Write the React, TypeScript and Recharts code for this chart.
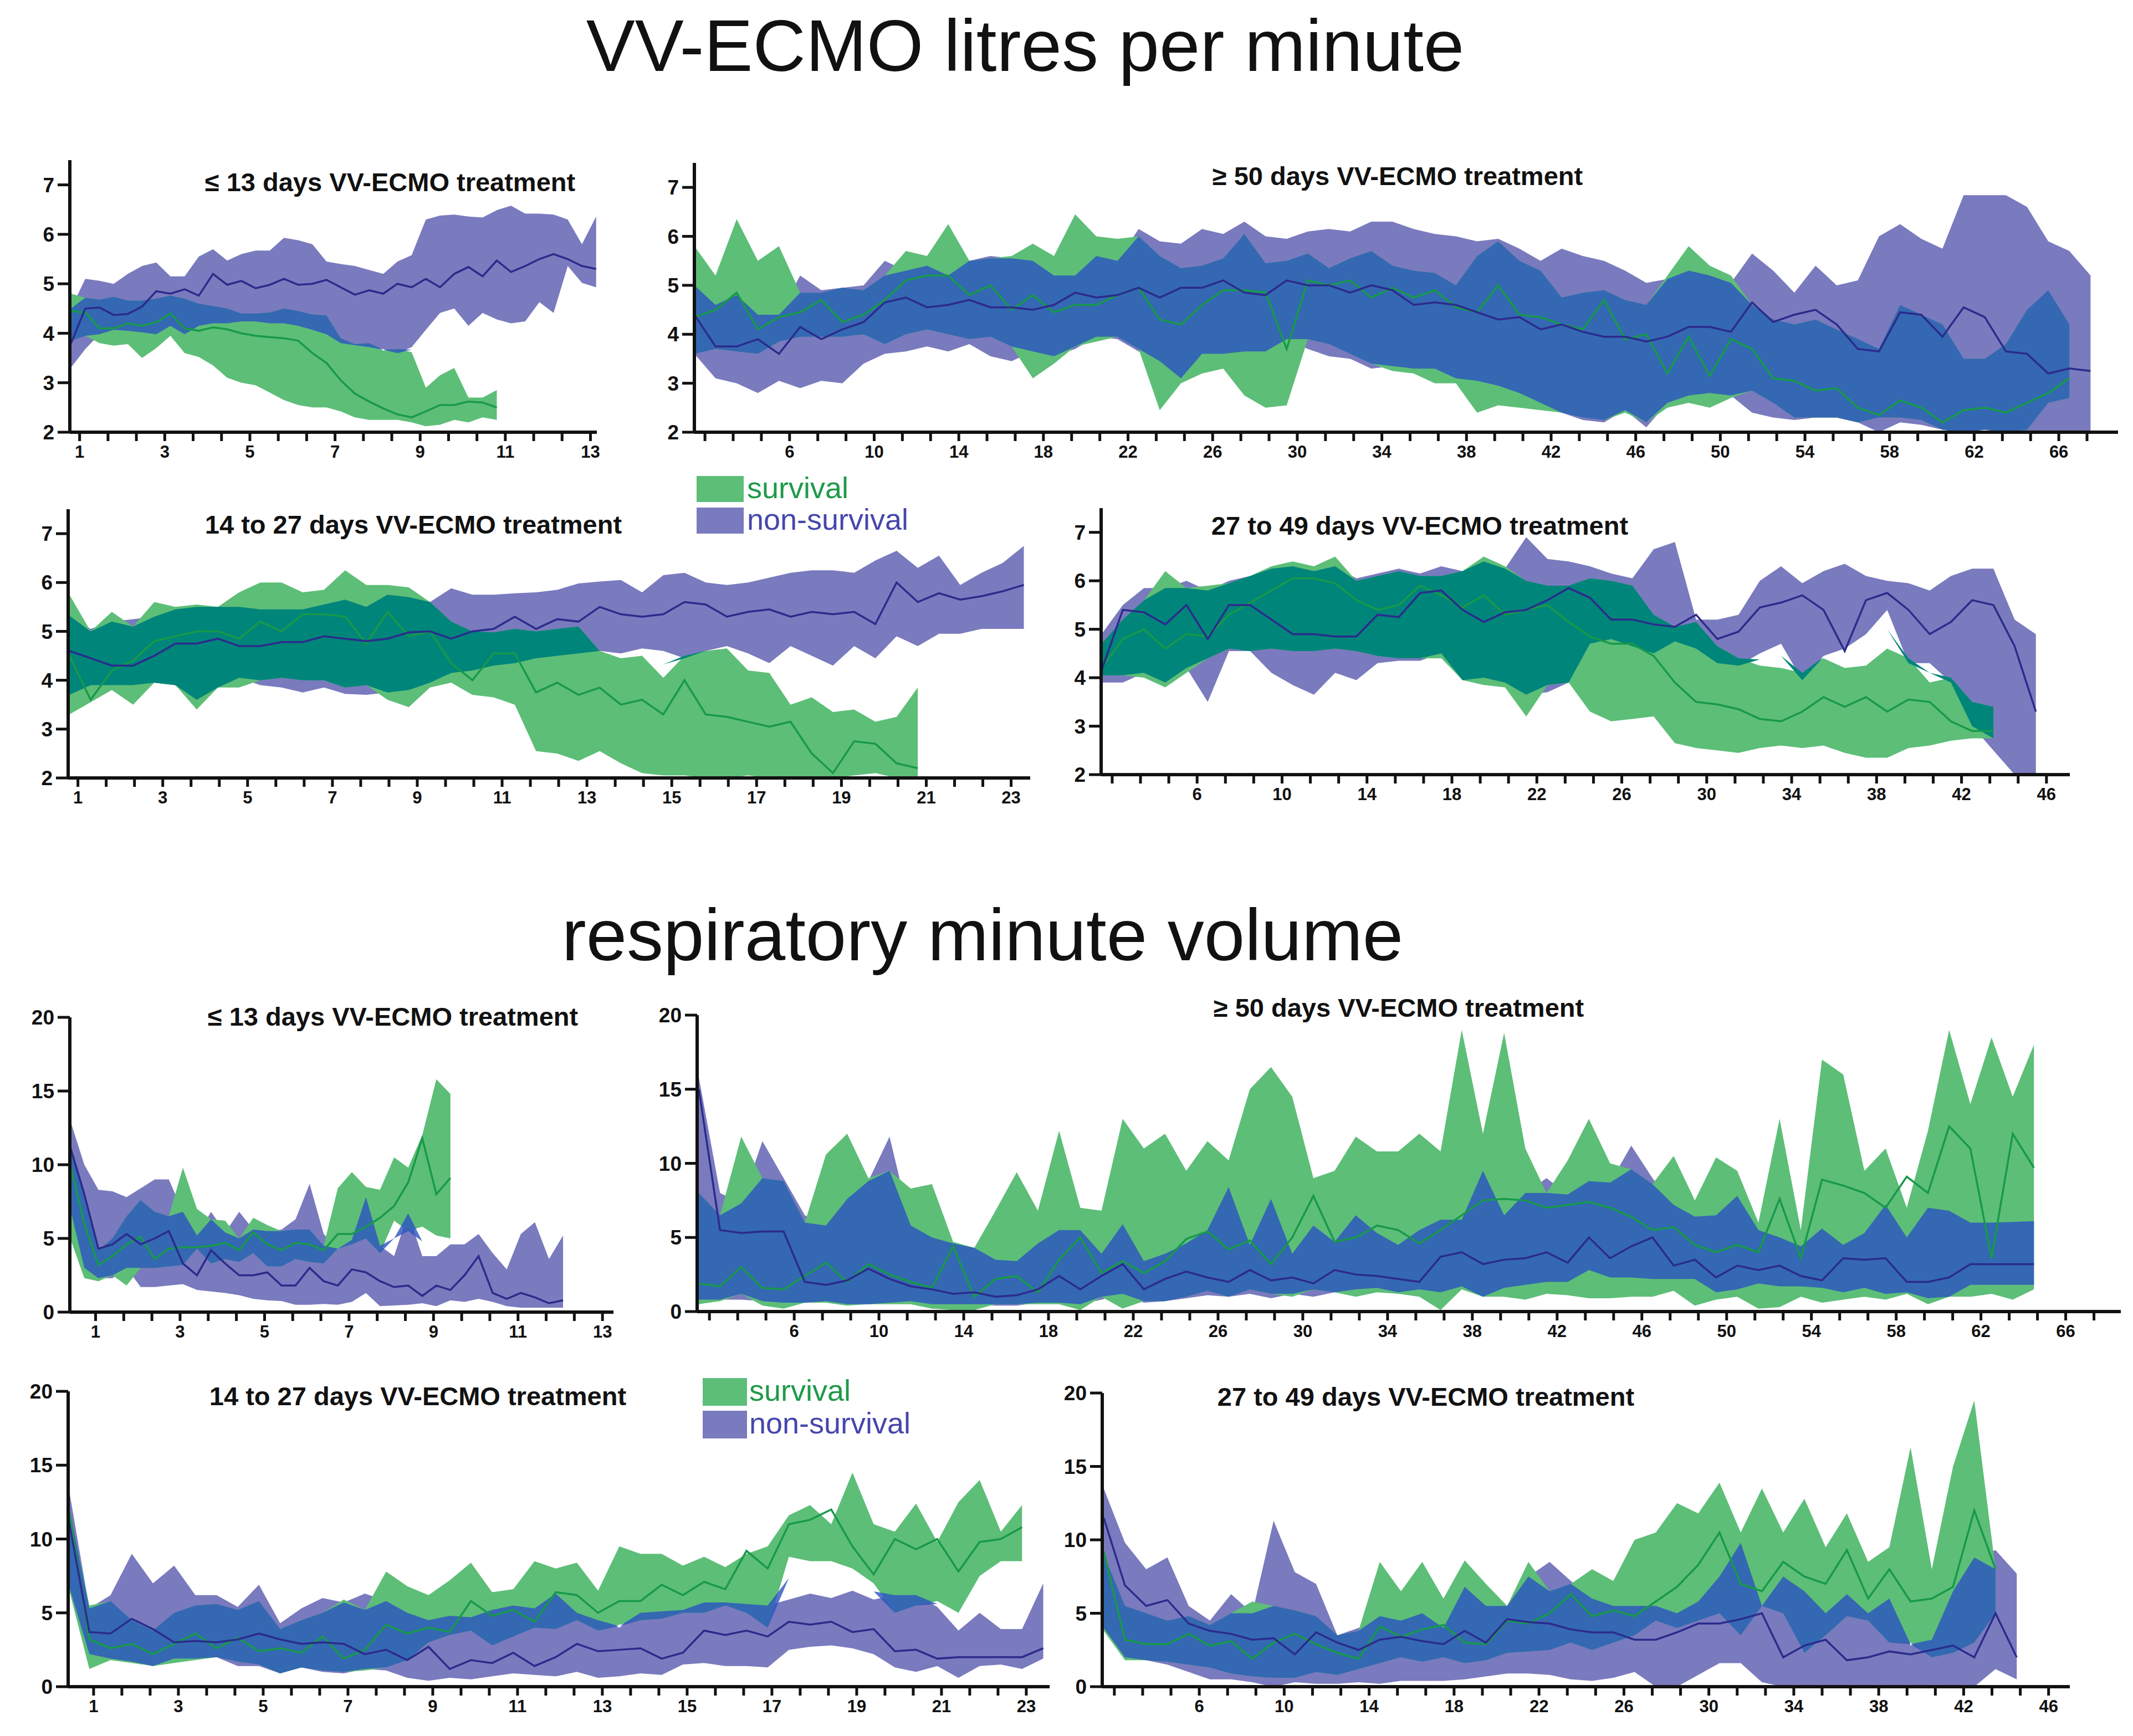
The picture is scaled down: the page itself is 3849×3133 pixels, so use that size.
import { ComposedChart, Area, Line, XAxis, YAxis } from "recharts";

const FONT = "'Liberation Sans', Arial, Helvetica, sans-serif";
const GREEN = "#5dbe78";
const PURPLE = "#7a7abe";
const BLUE = "#2b52c0";
const TEAL = "#00857a";
const GREEN_LINE = "#17994a";
const NAVY_LINE = "#2b2b8c";

// tick labels
const labels13 = [1, 3, 5, 7, 9, 11, 13];
const labels23 = [1, 3, 5, 7, 9, 11, 13, 15, 17, 19, 21, 23];
const labels66 = [6, 10, 14, 18, 22, 26, 30, 34, 38, 42, 46, 50, 54, 58, 62, 66];
const labels46 = [6, 10, 14, 18, 22, 26, 30, 34, 38, 42, 46];
const ecmoTicks = [2, 3, 4, 5, 6, 7];
const rmvTicks = [0, 5, 10, 15, 20];

// ---- VV-ECMO flow, <= 13 days (3 samples per day)
const ecmo13NonHi = [4.5, 5.1, 5.06, 5.0, 5.2, 5.36, 5.43, 5.15, 5.15, 5.55, 5.7, 5.47, 5.6, 5.67, 5.67, 5.93, 5.88, 5.8, 5.45, 5.4, 5.36, 5.28, 5.2, 5.45, 5.58, 6.3, 6.38, 6.4, 6.36, 6.34, 6.49, 6.58, 6.42, 6.42, 6.4, 6.3, 5.8, 6.36];
const ecmo13NonLo = [3.31, 3.68, 3.98, 4.07, 4.05, 4.02, 3.98, 4.15, 3.98, 4.15, 4.2, 4.2, 4.24, 4.24, 4.2, 4.2, 4.15, 4.07, 3.98, 3.8, 3.76, 3.72, 3.68, 3.6, 3.72, 4.07, 4.41, 4.5, 4.15, 4.41, 4.28, 4.2, 4.24, 4.63, 4.41, 5.36, 5.02, 4.93];
const ecmo13NonMed = [3.8, 4.5, 4.52, 4.37, 4.39, 4.54, 4.85, 4.8, 4.89, 4.76, 5.2, 4.98, 5.06, 4.91, 4.98, 5.1, 4.98, 5.0, 5.08, 4.93, 4.78, 4.87, 4.8, 5.0, 4.93, 5.1, 4.93, 5.2, 5.34, 5.15, 5.47, 5.24, 5.36, 5.5, 5.6, 5.5, 5.36, 5.3];
const ecmo13SurvHi = [4.8, 4.72, 4.68, 4.74, 4.66, 4.66, 4.7, 4.76, 4.7, 4.6, 4.55, 4.5, 4.4, 4.4, 4.42, 4.5, 4.45, 4.38, 4.36, 3.9, 3.78, 3.8, 3.65, 3.68, 3.62, 2.9, 3.15, 3.3, 2.7, 2.7, 2.85];
const ecmo13SurvLo = [3.85, 3.95, 3.8, 3.75, 3.78, 3.5, 3.7, 3.95, 3.6, 3.52, 3.35, 3.1, 3.0, 2.95, 2.8, 2.65, 2.55, 2.5, 2.5, 2.42, 2.3, 2.25, 2.25, 2.25, 2.2, 2.12, 2.15, 2.25, 2.2, 2.3, 2.25];
const ecmo13SurvMed = [4.45, 4.42, 4.1, 4.1, 4.2, 4.15, 4.22, 4.4, 4.1, 4.05, 4.12, 4.08, 4.0, 3.95, 3.92, 3.9, 3.85, 3.6, 3.4, 3.05, 2.78, 2.62, 2.48, 2.36, 2.3, 2.42, 2.55, 2.55, 2.62, 2.6, 2.5];

// ---- VV-ECMO flow, >= 50 days (1 sample per day)
const ecmo50NonHi = [5.0, 4.6, 4.8, 4.4, 4.4, 5.2, 4.9, 4.95, 5.0, 5.5, 5.3, 5.4, 5.2, 5.5, 5.6, 5.55, 5.5, 5.2, 5.2, 5.6, 5.5, 6.15, 5.9, 5.85, 6.15, 6.05, 6.3, 6.0, 5.95, 6.1, 6.15, 6.1, 6.3,
  6.3, 6.15, 6.05, 6.0, 5.9, 5.95, 5.75, 5.5, 5.75, 5.6, 5.5, 5.3, 5.05, 5.13, 5.3, 5.2, 5.05, 5.65, 5.3, 4.85, 5.4, 5.0, 5.1, 6.0, 6.25, 5.95, 5.75, 6.84, 6.84, 6.84, 6.6, 5.9, 5.7, 5.2];
const ecmo50NonLo = [3.6, 3.1, 3.0, 2.8, 3.05, 2.9, 3.05, 3.0, 3.4, 3.6, 3.65, 3.75, 3.65, 3.8, 3.55, 3.45, 3.65, 3.55, 3.7, 3.95, 3.9, 3.65, 3.45, 3.1, 3.6, 3.6, 3.65, 3.65, 3.9, 3.7, 3.55, 3.5, 3.3,
  3.35, 3.3, 3.3, 3.1, 3.05, 2.95, 2.8, 2.6, 2.4, 2.25, 2.2, 2.45, 2.1, 2.6, 2.75, 2.8, 2.75, 2.4, 2.3, 2.25, 2.3, 2.3, 2.2, 2.0, 2.2, 2.15, 2.05, 2.0, 2.05, 2.0, 2.0, 2.0, 2.0, 2.0];
const ecmo50NonMed = [4.4, 3.75, 3.75, 3.9, 3.6, 4.15, 3.9, 4.1, 4.25, 4.65, 4.75, 4.55, 4.6, 4.7, 4.55, 4.55, 4.5, 4.6, 4.85, 4.75, 4.8, 4.95, 4.75, 4.95, 4.95, 5.1, 4.85, 4.8, 5.1, 5.0, 5.0, 4.85, 5.0,
  4.9, 4.6, 4.65, 4.6, 4.45, 4.3, 4.35, 4.1, 4.2, 4.05, 3.95, 3.95, 3.85, 3.95, 4.15, 4.15, 4.05, 4.65, 4.25, 4.4, 4.5, 4.2, 3.7, 3.65, 4.45, 4.4, 3.95, 4.55, 4.35, 3.65, 3.6, 3.2, 3.3, 3.25];
const ecmo50SurvHi = [5.8, 5.2, 6.35, 5.5, 5.8, 4.85, 4.85, 4.95, 4.9, 5.2, 5.7, 5.6, 6.25, 5.5, 5.55, 5.6, 5.85, 5.6, 6.45, 6.0, 5.95, 6.0, 5.6, 5.35, 5.4, 5.55, 6.05, 5.45, 5.5, 5.65, 5.35, 5.55, 5.7,
  5.4, 5.3, 5.25, 5.0, 5.6, 5.9, 5.5, 5.3, 4.75, 4.85, 4.9, 4.7, 4.6, 5.2, 5.8, 5.4, 5.2, 4.6, 4.3, 4.2, 4.3, 4.1, 3.9, 3.7, 4.6, 4.4, 4.2, 3.5, 3.5, 3.8, 4.5, 4.9, 4.2];
const ecmo50SurvLo = [3.6, 3.7, 3.65, 3.6, 3.85, 3.95, 3.95, 3.95, 4.0, 3.8, 4.0, 4.1, 4.0, 3.9, 3.95, 3.75, 3.1, 3.4, 3.75, 3.85, 3.95, 3.7, 2.45, 3.0, 3.2, 3.3, 2.75, 2.5, 2.55, 3.9, 3.8, 3.6, 3.4,
  3.25, 3.2, 3.0, 3.0, 2.4, 2.55, 2.5, 2.45, 2.4, 2.3, 2.25, 2.4, 2.2, 2.5, 2.6, 2.5, 2.7, 2.85, 2.6, 2.3, 2.3, 2.3, 2.2, 2.3, 2.3, 2.25, 2.05, 2.0, 2.05, 2.0, 2.05, 2.6, 2.7];
const ecmo50SurvMed = [4.35, 4.5, 4.85, 4.1, 4.35, 4.45, 4.7, 4.25, 4.4, 4.7, 5.1, 5.2, 5.2, 4.8, 5.0, 4.5, 4.8, 4.45, 4.6, 4.6, 4.8, 4.95, 4.3, 4.2, 4.6, 4.9, 4.9, 4.85, 3.7, 5.1, 5.0, 5.1, 4.75,
  4.95, 4.75, 4.9, 4.55, 4.45, 5.0, 4.4, 4.35, 4.2, 4.1, 4.7, 3.9, 4.0, 3.2, 3.95, 3.15, 3.9, 3.7, 3.1, 3.05, 2.85, 2.9, 2.5, 2.35, 2.65, 2.5, 2.2, 2.45, 2.5, 2.4, 2.6, 2.8, 3.1];

// ---- VV-ECMO flow, 14 to 27 days (2 samples per day)
const ecmo27NonHi = [5.32, 5.05, 5.2, 5.25, 5.3, 5.45, 5.5, 5.5, 5.5, 5.45, 5.45, 5.45, 5.55, 5.65, 5.5, 5.75, 5.7, 5.6, 5.88, 5.75, 5.75, 5.78, 5.8, 5.85, 5.98, 6.02, 6.05, 5.8, 6.15, 6.2, 6.0, 5.95, 6.0, 6.1, 6.2, 6.25, 6.25, 6.2, 6.45, 6.65, 6.3, 6.55, 5.95, 6.2, 6.4, 6.75];
const ecmo27NonLo = [3.7, 3.9, 3.9, 3.9, 3.95, 3.9, 3.6, 3.85, 4.05, 3.9, 3.85, 3.75, 3.85, 3.72, 3.7, 3.75, 3.8, 3.95, 4.15, 4.2, 4.3, 4.35, 4.45, 4.5, 4.55, 4.6, 4.55, 4.65, 4.6, 4.45, 4.6, 4.7, 4.55, 4.35, 4.7, 4.5, 4.3, 4.7, 4.45, 4.9, 4.7, 4.95, 4.95, 5.05, 5.05, 5.05];
const ecmo27NonMed = [4.6, 4.45, 4.3, 4.3, 4.5, 4.75, 4.75, 4.85, 4.7, 4.7, 4.78, 4.78, 4.9, 4.85, 4.8, 4.85, 4.98, 5.0, 4.85, 5.0, 5.05, 5.3, 5.05, 5.25, 5.2, 5.5, 5.35, 5.3, 5.35, 5.6, 5.55, 5.3, 5.4, 5.45, 5.3, 5.4, 5.35, 5.4, 5.15, 6.0, 5.6, 5.78, 5.65, 5.72, 5.82, 5.95];
const ecmo27SurvHi = [5.75, 5.0, 5.4, 5.1, 5.6, 5.5, 5.55, 5.5, 5.8, 6.0, 6.0, 5.8, 5.85, 6.25, 5.95, 5.95, 5.9, 5.6, 5.2, 5.0, 4.98, 5.05, 5.0, 5.05, 5.1, 4.6, 4.45, 4.5, 4.05, 4.5, 4.6, 4.65, 4.2, 4.15, 3.5, 3.65, 3.35, 3.4, 3.15, 3.25, 3.85];
const ecmo27SurvLo = [3.3, 3.55, 3.8, 3.5, 3.95, 3.9, 3.4, 3.85, 3.85, 4.0, 4.05, 4.0, 4.0, 3.85, 3.9, 3.6, 3.45, 3.85, 3.95, 3.7, 3.65, 3.5, 2.55, 2.5, 2.35, 2.55, 2.3, 2.1, 2.05, 2.05, 2.0, 2.0, 2.05, 2.0, 2.0, 2.0, 2.0, 2.05, 2.1, 2.0, 2.0];
const ecmo27SurvMed = [4.5, 3.6, 4.2, 4.4, 4.8, 4.9, 5.0, 5.0, 4.85, 5.2, 5.0, 5.35, 5.35, 5.3, 4.75, 5.4, 4.9, 5.0, 4.35, 4.0, 4.55, 4.55, 3.75, 3.95, 3.7, 3.85, 3.5, 3.6, 3.3, 4.0, 3.3, 3.25, 3.15, 3.05, 3.15, 2.5, 2.1, 2.75, 2.7, 2.3, 2.2];

// ---- VV-ECMO flow, 27 to 49 days (1 sample per day)
const ecmo49NonHi = [4.9, 5.5, 5.85, 5.85, 6.0, 5.8, 6.0, 6.1, 6.25, 6.3, 6.2, 6.3, 6.05, 6.15, 6.25, 6.15, 6.3, 6.2, 6.4, 6.25, 6.9, 6.45, 6.4, 6.3, 6.15, 6.05, 6.65, 6.8, 5.2, 5.2, 5.3, 6.0, 6.3, 5.95, 6.2, 6.35, 6.1, 6.0, 5.95, 5.8, 6.1, 6.25, 6.25, 5.2, 4.9];
const ecmo49NonLo = [3.9, 3.9, 4.1, 3.9, 4.2, 3.5, 4.55, 4.55, 4.1, 3.85, 3.65, 4.1, 3.95, 4.3, 4.35, 4.35, 4.5, 3.95, 4.0, 3.9, 3.65, 3.7, 3.9, 4.7, 4.8, 4.65, 4.5, 4.75, 4.6, 4.3, 4.25, 4.5, 4.7, 3.95, 4.45, 4.6, 4.9, 5.4, 4.3, 4.3, 3.9, 3.0, 2.5, 2.0, 2.0];
const ecmo49NonMed = [4.15, 5.4, 5.35, 5.1, 5.5, 4.8, 5.5, 5.5, 5.2, 4.9, 4.9, 4.85, 4.85, 5.3, 5.25, 5.75, 5.8, 5.4, 5.15, 5.35, 5.4, 5.6, 5.85, 5.65, 5.2, 5.2, 5.1, 5.05, 5.3, 4.8, 4.95, 5.45, 5.55, 5.7, 5.4, 4.55, 5.6, 5.75, 5.4, 4.9, 5.15, 5.6, 5.5, 4.65, 3.3];
const ecmo49SurvHi = [4.7, 5.2, 5.6, 6.2, 5.85, 5.9, 5.95, 6.1, 6.3, 6.4, 6.3, 6.5, 6.0, 6.1, 6.2, 6.1, 6.1, 6.2, 6.5, 6.3, 6.0, 5.9, 5.9, 6.05, 6.0, 5.9, 5.3, 5.05, 5.15, 4.65, 4.4, 4.25, 4.2, 4.1, 4.4, 4.2, 4.25, 4.6, 4.4, 3.9, 4.0, 3.5, 3.4];
const ecmo49SurvLo = [4.05, 4.05, 4.0, 3.8, 4.1, 4.4, 4.6, 4.55, 4.6, 4.55, 4.55, 4.6, 4.55, 4.45, 4.4, 4.4, 4.4, 3.95, 3.85, 3.8, 3.2, 3.85, 3.9, 3.3, 3.1, 3.15, 3.2, 2.65, 2.55, 2.5, 2.45, 2.55, 2.6, 2.55, 2.6, 2.45, 2.35, 2.35, 2.55, 2.6, 2.7, 2.75, 2.75];
const ecmo49SurvMed = [4.2, 4.8, 5.0, 4.6, 4.9, 4.85, 5.3, 5.55, 5.8, 6.05, 6.05, 5.95, 5.6, 5.4, 5.5, 5.9, 5.7, 5.45, 5.7, 5.3, 5.4, 5.5, 5.15, 4.85, 4.7, 4.7, 4.45, 3.9, 3.5, 3.45, 3.35, 3.15, 3.1, 3.3, 3.6, 3.4, 3.6, 3.3, 3.55, 3.5, 3.1, 2.9, 2.9];

// ---- respiratory minute volume, <= 13 days (3 samples per day)
const rmv13NonHi = [13.0, 10.0, 8.3, 8.2, 7.8, 8.4, 9.0, 9.0, 6.8, 5.2, 6.8, 5.4, 6.8, 5.6, 5.5, 5.6, 6.3, 8.7, 5.3, 4.3, 4.9, 7.8, 4.5, 3.8, 6.7, 3.8, 3.8, 4.6, 4.6, 5.3, 4.0, 2.9, 5.3, 6.1, 3.6, 5.2];
const rmv13NonLo = [7.0, 3.0, 2.3, 2.3, 3.0, 1.7, 1.7, 1.8, 1.9, 1.5, 1.4, 1.3, 1.15, 0.9, 0.8, 0.75, 0.5, 0.5, 0.55, 0.5, 0.7, 1.3, 0.4, 0.45, 0.5, 0.6, 0.4, 0.8, 0.7, 0.9, 0.7, 0.4, 0.3, 0.3, 0.3, 0.3];
const rmv13NonMed = [11.2, 8.0, 4.3, 4.6, 5.3, 4.6, 5.0, 5.5, 3.3, 2.5, 4.2, 3.3, 2.5, 2.5, 2.7, 1.8, 1.8, 3.0, 2.1, 1.8, 2.9, 2.7, 2.1, 1.7, 1.8, 1.1, 1.8, 1.5, 2.5, 3.8, 1.3, 0.9, 1.3, 1.0, 0.6, 0.8];
const rmv13SurvHi = [11.3, 8.0, 4.2, 5.0, 6.5, 7.6, 6.8, 6.5, 9.8, 7.0, 6.3, 6.2, 5.0, 6.4, 5.9, 5.5, 5.6, 5.6, 4.5, 8.4, 9.5, 8.5, 8.3, 10.5, 9.8, 12.0, 15.8, 14.8];
const rmv13SurvLo = [5.0, 2.3, 2.1, 2.5, 1.8, 3.0, 3.0, 3.1, 3.2, 4.3, 3.3, 3.6, 3.4, 4.0, 3.1, 3.1, 3.6, 3.4, 3.3, 4.3, 4.6, 5.0, 4.0, 6.2, 5.5, 5.8, 5.2, 5.0];
const rmv13SurvMed = [10.0, 6.0, 3.2, 3.8, 4.6, 5.1, 3.6, 4.3, 4.4, 4.4, 4.5, 4.7, 4.2, 5.4, 4.6, 4.2, 4.7, 4.6, 4.2, 5.3, 5.3, 5.8, 6.4, 7.2, 8.8, 11.8, 8.0, 9.1];

// ---- respiratory minute volume, >= 50 days (1 sample per day)
const rmv50NonHi = [15.8, 8.0, 7.3, 11.5, 9.0, 6.5, 5.8, 7.6, 8.8, 11.8, 5.8, 5.0, 4.6, 4.3, 3.5, 3.4, 4.6, 5.5, 5.5, 3.9, 5.9, 3.4, 3.9, 4.6, 5.5, 8.4, 4.5, 7.6, 3.9, 5.8, 4.7, 6.5, 5.3,
  4.5, 5.5, 6.2, 6.2, 9.5, 6.5, 8.0, 9.0, 7.9, 8.8, 8.7, 11.2, 9.0, 7.2, 6.4, 6.5, 7.8, 5.5, 5.0, 4.4, 5.6, 4.5, 5.3, 7.2, 5.0, 7.0, 6.8, 6.0, 6.0, 6.05, 6.1];
const rmv50NonLo = [0.8, 0.8, 0.8, 0.7, 0.6, 0.6, 0.7, 0.5, 0.5, 0.6, 0.7, 0.5, 0.5, 0.5, 0.4, 0.4, 0.6, 0.6, 0.5, 0.8, 1.2, 0.6, 0.7, 0.9, 1.1, 1.0, 1.2, 0.9, 1.2, 1.0, 1.3, 1.5, 1.6,
  1.3, 1.5, 1.3, 1.7, 1.0, 1.6, 1.8, 2.0, 2.0, 2.8, 2.3, 2.3, 2.2, 2.2, 2.2, 1.3, 1.5, 1.9, 1.7, 1.7, 1.6, 1.3, 1.6, 1.2, 1.3, 0.9, 1.0, 1.8, 1.8, 1.8, 1.8];
const rmv50NonMed = [15.0, 5.5, 5.3, 5.4, 5.4, 2.0, 1.8, 2.1, 2.9, 2.2, 1.7, 1.5, 1.2, 1.3, 1.0, 1.1, 1.5, 2.4, 1.5, 2.4, 3.2, 1.5, 2.2, 2.7, 2.3, 2.0, 2.8, 2.1, 2.3, 1.9, 2.8, 2.5, 2.4,
  2.2, 2.0, 3.7, 4.0, 3.2, 3.5, 3.6, 4.0, 3.3, 5.0, 3.6, 4.4, 5.0, 3.1, 3.5, 2.3, 3.1, 2.8, 3.1, 2.4, 2.1, 3.6, 3.5, 3.6, 2.0, 2.0, 2.3, 3.2, 3.2, 3.2, 3.2];
const rmv50SurvHi = [8.0, 6.5, 11.8, 9.0, 8.8, 6.0, 10.6, 12.0, 9.0, 9.5, 8.3, 8.6, 4.7, 4.3, 6.8, 9.4, 6.8, 12.2, 7.0, 6.8, 13.0, 11.0, 12.0, 9.5, 11.5, 10.2, 15.0, 16.5, 14.5, 9.0, 9.5, 11.8, 10.8,
  10.8, 12.0, 10.8, 19.0, 12.0, 18.8, 11.0, 8.0, 10.2, 13.0, 10.0, 9.6, 8.6, 10.5, 7.5, 10.4, 9.5, 6.0, 13.0, 5.5, 17.0, 16.0, 9.5, 11.0, 7.0, 12.2, 19.0, 14.0, 18.5, 14.5, 18.0];
const rmv50SurvLo = [0.5, 0.7, 1.2, 0.4, 0.2, 0.6, 0.6, 0.4, 0.5, 0.5, 0.5, 0.2, 0.1, 0.1, 0.5, 0.5, 0.5, 0.5, 0.1, 1.0, 0.2, 0.7, 0.7, 1.0, 1.4, 1.0, 1.5, 1.2, 1.0, 1.5, 1.3, 1.0, 1.3,
  1.2, 1.0, 0.1, 1.5, 1.0, 1.0, 0.8, 1.2, 1.1, 0.9, 0.9, 1.0, 1.0, 1.4, 0.4, 0.8, 1.0, 0.2, 0.3, 1.0, 0.6, 0.8, 1.0, 0.8, 1.2, 0.5, 1.0, 1.0, 1.2, 0.8, 1.5];
const rmv50SurvMed = [1.9, 1.7, 3.0, 1.6, 1.5, 2.4, 3.3, 2.0, 3.2, 2.5, 2.0, 1.6, 4.4, 1.0, 2.2, 2.4, 1.3, 3.5, 5.0, 2.6, 3.4, 2.6, 3.4, 4.9, 5.4, 4.2, 4.8, 3.2, 5.0, 7.8, 4.7, 5.0, 5.8,
  5.5, 4.6, 5.5, 6.5, 7.5, 7.6, 7.5, 7.0, 7.2, 7.4, 7.0, 6.4, 5.5, 5.7, 4.5, 4.0, 4.5, 4.0, 7.6, 3.6, 8.9, 8.5, 8.0, 7.0, 9.1, 8.0, 12.5, 11.0, 3.6, 12.0, 9.7];

// ---- respiratory minute volume, 14 to 27 days (2 samples per day)
const rmv27NonHi = [13.7, 5.3, 6.2, 9.0, 7.0, 8.2, 6.2, 6.2, 5.4, 6.9, 4.3, 5.3, 6.0, 5.7, 6.3, 5.8, 5.0, 4.5, 4.8, 4.7, 5.2, 5.5, 5.3, 6.3, 5.0, 4.5, 4.0, 5.0, 5.1, 5.2, 5.7, 5.7, 5.6, 5.5, 5.9, 6.3, 6.0, 6.5, 5.9, 6.2, 6.2, 5.4, 3.8, 5.0, 3.9, 3.9, 7.0];
const rmv27NonLo = [7.0, 2.2, 1.9, 1.7, 1.4, 1.9, 1.9, 2.0, 1.4, 1.4, 0.9, 1.3, 1.0, 0.9, 1.2, 1.1, 0.6, 0.4, 0.6, 0.5, 0.7, 0.9, 0.8, 0.7, 1.0, 0.6, 0.7, 0.9, 0.8, 1.5, 1.6, 1.4, 1.4, 1.3, 2.5, 2.7, 2.8, 2.6, 2.2, 1.3, 1.0, 1.4, 0.6, 1.4, 1.5, 1.2, 1.9];
const rmv27NonMed = [11.5, 3.7, 3.6, 4.6, 3.9, 3.0, 3.1, 3.0, 3.2, 3.6, 3.2, 2.9, 3.0, 2.9, 2.2, 2.5, 1.8, 2.7, 1.2, 1.8, 1.6, 2.3, 1.4, 2.0, 2.9, 2.4, 2.5, 2.6, 1.9, 2.3, 3.8, 3.5, 3.8, 3.4, 4.4, 4.2, 4.4, 3.7, 3.9, 2.4, 2.5, 1.9, 2.0, 2.0, 2.0, 2.0, 2.6];
const rmv27SurvHi = [12.5, 5.5, 5.8, 4.5, 3.8, 5.0, 5.5, 5.6, 5.2, 5.8, 3.9, 4.5, 5.0, 5.9, 5.2, 7.8, 6.8, 6.2, 7.2, 8.4, 6.4, 6.6, 8.5, 8.0, 8.4, 6.5, 9.5, 9.0, 9.0, 8.2, 8.8, 8.1, 9.0, 9.5, 11.6, 12.3, 11.0, 14.5, 11.0, 10.5, 12.4, 9.8, 12.5, 14.0, 10.5, 12.3];
const rmv27SurvLo = [6.8, 1.2, 1.8, 1.6, 1.4, 1.6, 1.8, 2.0, 1.7, 1.5, 0.9, 1.3, 1.1, 1.0, 1.1, 1.3, 1.8, 3.0, 3.5, 3.8, 2.8, 3.4, 4.0, 3.9, 4.5, 3.8, 4.2, 4.5, 4.6, 5.0, 5.0, 5.5, 5.0, 4.0, 8.8, 8.5, 8.5, 8.0, 7.0, 5.0, 5.5, 5.8, 5.0, 7.5, 8.5, 8.5];
const rmv27SurvMed = [12.3, 3.2, 2.6, 2.9, 2.2, 2.9, 3.6, 2.6, 3.3, 2.4, 2.6, 2.3, 3.4, 1.9, 2.5, 4.2, 3.6, 4.0, 3.7, 5.8, 4.8, 5.2, 4.4, 6.4, 6.2, 5.0, 5.8, 5.8, 6.9, 6.2, 7.1, 6.6, 9.2, 8.0, 11.0, 11.3, 12.0, 9.5, 7.6, 10.0, 9.3, 10.0, 7.8, 9.8, 10.0, 10.8];

// ---- respiratory minute volume, 27 to 49 days (1 sample per day)
const rmv49NonHi = [13.5, 9.8, 8.0, 8.8, 5.5, 4.5, 6.3, 5.0, 11.3, 7.8, 7.0, 3.5, 4.0, 4.8, 4.5, 5.0, 4.0, 6.8, 5.5, 5.5, 7.5, 8.5, 7.2, 6.0, 5.5, 5.5, 5.5, 5.0, 5.8, 7.5, 9.8, 5.5, 7.5, 6.5, 5.0, 6.3, 5.0, 6.0, 2.8, 3.2, 6.5, 8.8, 9.3, 7.7];
const rmv49NonLo = [4.0, 2.0, 1.8, 1.5, 1.0, 0.5, 0.5, 0.3, 0.0, 0.3, 0.2, 0.2, 0.3, 0.2, 0.4, 0.4, 0.4, 0.5, 0.7, 0.9, 0.9, 0.8, 0.5, 0.4, 0.6, 1.0, 0.0, 0.0, 0.8, 1.6, 1.6, 0.3, 0.0, 0.0, 0.0, 0.0, 0.0, 0.0, 0.0, 0.0, 0.0, 0.0, 1.2, 0.5];
const rmv49NonMed = [11.5, 6.9, 5.5, 5.9, 4.3, 3.8, 3.6, 3.2, 3.3, 2.2, 3.7, 3.0, 2.5, 3.2, 3.4, 3.1, 2.9, 3.8, 3.0, 4.6, 4.4, 4.3, 3.9, 3.7, 3.7, 3.2, 3.2, 3.7, 4.3, 4.3, 4.6, 5.0, 2.0, 2.8, 3.2, 1.8, 2.0, 2.4, 2.2, 2.5, 2.8, 2.0, 5.0, 2.0];
const rmv49SurvHi = [9.0, 5.5, 5.0, 4.5, 4.8, 4.2, 5.0, 5.8, 5.5, 5.2, 4.8, 3.5, 3.8, 8.5, 6.5, 8.5, 6.0, 8.6, 7.0, 5.5, 8.5, 6.5, 7.0, 8.0, 7.2, 10.0, 10.5, 12.5, 11.8, 13.9, 10.5, 13.5, 10.5, 12.8, 9.5, 11.8, 8.5, 9.5, 16.3, 8.0, 15.0, 19.5, 8.0];
const rmv49SurvLo = [3.8, 1.8, 1.8, 1.7, 1.5, 1.3, 0.9, 0.7, 0.6, 0.6, 1.0, 0.8, 1.2, 1.6, 2.0, 1.7, 2.0, 1.6, 1.8, 2.3, 2.4, 2.5, 3.0, 2.5, 3.0, 3.5, 4.5, 4.0, 4.5, 5.0, 3.5, 5.5, 5.0, 2.3, 3.5, 4.8, 4.5, 3.0, 3.0, 2.0, 2.3, 3.0, 5.0];
const rmv49SurvMed = [9.2, 3.2, 2.9, 2.9, 3.6, 2.8, 3.1, 1.9, 3.0, 3.6, 2.9, 2.3, 1.9, 4.1, 3.4, 3.9, 4.2, 3.0, 2.9, 4.5, 4.3, 5.0, 6.3, 4.8, 5.2, 4.8, 5.8, 6.8, 8.3, 10.5, 7.0, 6.5, 8.5, 7.5, 7.0, 9.3, 6.0, 8.0, 5.8, 6.0, 6.8, 12.0, 8.0];

function buildRows(x0, step, sLo, sMed, sHi, nLo, nMed, nHi) {
  const rows = [];
  const n = Math.max(sLo.length, nLo.length);
  for (let i = 0; i < n; i++) {
    const row: any = { x: x0 + i * step };
    const hasN = i < nLo.length;
    const hasS = i < sLo.length;
    if (hasN) {
      row.nR = [nLo[i], nHi[i]];
      row.nM = nMed[i];
    }
    if (hasS) {
      row.sR = [sLo[i], sHi[i]];
      row.sM = sMed[i];
    }
    if (hasN && hasS) {
      // where both bands cover the same values
      let lo = Math.max(sLo[i], nLo[i]);
      let hi = Math.min(sHi[i], nHi[i]);
      if (hi < lo) {
        const m = (lo + hi) / 2;
        lo = m;
        hi = m;
      }
      row.oR = [lo, hi];
    }
    rows.push(row);
  }
  return rows;
}

function makeTicks(first, step, last) {
  const out = [];
  for (let k = 0; first + k * step <= last + 1e-6; k++) out.push(first + k * step);
  return out;
}

// blue panels: survival line sits under the overlap; teal panels: on top of it
const panels = [
  {
    id: "a", left: 126, right: 1077, top: 289, bottom: 780,
    xDomain: [0.77, 13.15], yDomain: [2, 7.5], yTicks: ecmoTicks,
    ticks: makeTicks(1, 2 / 3, 13), labels: labels13, overlap: BLUE, overlapOpacity: 0.8, lineOnTop: false,
    rows: buildRows(0.8, 1 / 3, ecmo13SurvLo, ecmo13SurvMed, ecmo13SurvHi, ecmo13NonLo, ecmo13NonMed, ecmo13NonHi),
  },
  {
    id: "b", left: 1253, right: 3822, top: 294, bottom: 780,
    xDomain: [1.5, 68.8], yDomain: [2, 7.5], yTicks: ecmoTicks,
    ticks: makeTicks(2, 4 / 3, 67.4), labels: labels66, overlap: BLUE, overlapOpacity: 0.8, lineOnTop: false,
    rows: buildRows(1.5, 1, ecmo50SurvLo, ecmo50SurvMed, ecmo50SurvHi, ecmo50NonLo, ecmo50NonMed, ecmo50NonHi),
  },
  {
    id: "c", left: 123, right: 1859, top: 919, bottom: 1404,
    xDomain: [0.77, 23.45], yDomain: [2, 7.5], yTicks: ecmoTicks,
    ticks: makeTicks(1, 2 / 3, 23), labels: labels23, overlap: TEAL, overlapOpacity: 1, lineOnTop: true,
    rows: buildRows(0.8, 0.5, ecmo27SurvLo, ecmo27SurvMed, ecmo27SurvHi, ecmo27NonLo, ecmo27NonMed, ecmo27NonHi),
  },
  {
    id: "d", left: 1987, right: 3735, top: 917, bottom: 1398,
    xDomain: [1.48, 47.1], yDomain: [2, 7.5], yTicks: ecmoTicks,
    ticks: makeTicks(2, 4 / 3, 46), labels: labels46, overlap: TEAL, overlapOpacity: 1, lineOnTop: true,
    rows: buildRows(1.5, 1, ecmo49SurvLo, ecmo49SurvMed, ecmo49SurvHi, ecmo49NonLo, ecmo49NonMed, ecmo49NonHi),
  },
  {
    id: "e", left: 126, right: 1107, top: 1836, bottom: 2368,
    xDomain: [0.39, 13.26], yDomain: [0, 20], yTicks: rmvTicks,
    ticks: makeTicks(1, 2 / 3, 13), labels: labels13, overlap: BLUE, overlapOpacity: 0.8, lineOnTop: false,
    rows: buildRows(0.4, 1 / 3, rmv13SurvLo, rmv13SurvMed, rmv13SurvHi, rmv13NonLo, rmv13NonMed, rmv13NonHi),
  },
  {
    id: "f", left: 1258, right: 3827, top: 1832, bottom: 2367,
    xDomain: [1.42, 68.6], yDomain: [0, 20], yTicks: rmvTicks,
    ticks: makeTicks(2, 4 / 3, 67.4), labels: labels66, overlap: BLUE, overlapOpacity: 0.8, lineOnTop: false,
    rows: buildRows(1.5, 1, rmv50SurvLo, rmv50SurvMed, rmv50SurvHi, rmv50NonLo, rmv50NonMed, rmv50NonHi),
  },
  {
    id: "g", left: 123, right: 1894, top: 2511, bottom: 3044,
    xDomain: [0.4, 23.55], yDomain: [0, 20], yTicks: rmvTicks,
    ticks: makeTicks(1, 2 / 3, 23), labels: labels23, overlap: BLUE, overlapOpacity: 0.8, lineOnTop: false,
    rows: buildRows(0.4, 0.5, rmv27SurvLo, rmv27SurvMed, rmv27SurvHi, rmv27NonLo, rmv27NonMed, rmv27NonHi),
  },
  {
    id: "h", left: 1989, right: 3735, top: 2514, bottom: 3044,
    xDomain: [1.43, 47.0], yDomain: [0, 20], yTicks: rmvTicks,
    ticks: makeTicks(2, 4 / 3, 46), labels: labels46, overlap: BLUE, overlapOpacity: 0.8, lineOnTop: false,
    rows: buildRows(1.5, 1, rmv49SurvLo, rmv49SurvMed, rmv49SurvHi, rmv49NonLo, rmv49NonMed, rmv49NonHi),
  },
];

const panelTitles = [
  { text: "\u2264 13 days VV-ECMO treatment", x: 704, y: 345 },
  { text: "\u2265 50 days VV-ECMO treatment", x: 2522, y: 334 },
  { text: "14 to 27 days VV-ECMO treatment", x: 746, y: 963 },
  { text: "27 to 49 days VV-ECMO treatment", x: 2562, y: 965 },
  { text: "\u2264 13 days VV-ECMO treatment", x: 709, y: 1851 },
  { text: "\u2265 50 days VV-ECMO treatment", x: 2524, y: 1835 },
  { text: "14 to 27 days VV-ECMO treatment", x: 754, y: 2536 },
  { text: "27 to 49 days VV-ECMO treatment", x: 2573, y: 2537 },
];

const YW = 120;
const XH = 80;
const MT = 30;
const MR = 12;

function Panel({ p }: { p: any }) {
  const w = p.right - p.left + YW + MR;
  const h = p.bottom - p.top + MT + XH;
  const fmt = (v: number) => {
    const r = Math.round(v);
    return Math.abs(v - r) < 1e-6 && p.labels.includes(r) ? String(r) : "";
  };
  const survLine = (
    <Line key="sM" type="linear" dataKey="sM" stroke={GREEN_LINE} strokeWidth={3.5} dot={false} activeDot={false} isAnimationActive={false} />
  );
  return (
    <div style={{ position: "absolute", left: p.left - YW, top: p.top - MT }}>
      <ComposedChart width={w} height={h} data={p.rows} margin={{ top: MT, right: MR, bottom: 0, left: 0 }}>
        <XAxis
          type="number"
          dataKey="x"
          domain={p.xDomain}
          ticks={p.ticks}
          interval={0}
          allowDataOverflow
          height={XH}
          tickFormatter={fmt}
          tickSize={16}
          tickMargin={8}
          axisLine={{ stroke: "#111", strokeWidth: 6 }}
          tickLine={{ stroke: "#111", strokeWidth: 5 }}
          tick={{ fontSize: 31, fontWeight: 700, fill: "#111", fontFamily: FONT }}
        />
        <YAxis
          type="number"
          domain={p.yDomain}
          ticks={p.yTicks}
          interval={0}
          allowDataOverflow
          width={YW}
          tickSize={22}
          tickMargin={6}
          axisLine={{ stroke: "#111", strokeWidth: 6 }}
          tickLine={{ stroke: "#111", strokeWidth: 5 }}
          tick={{ fontSize: 37, fontWeight: 700, fill: "#111", fontFamily: FONT }}
        />
        <Area type="linear" dataKey="nR" stroke="none" fill={PURPLE} fillOpacity={1} dot={false} activeDot={false} isAnimationActive={false} />
        <Area type="linear" dataKey="sR" stroke="none" fill={GREEN} fillOpacity={1} dot={false} activeDot={false} isAnimationActive={false} />
        {!p.lineOnTop && survLine}
        <Area type="linear" dataKey="oR" stroke="none" fill={p.overlap} fillOpacity={p.overlapOpacity} dot={false} activeDot={false} isAnimationActive={false} />
        {p.lineOnTop && survLine}
        <Line type="linear" dataKey="nM" stroke={NAVY_LINE} strokeWidth={3.5} dot={false} activeDot={false} isAnimationActive={false} />
      </ComposedChart>
    </div>
  );
}

function LegendBlock({ x, y, sw, sh, gap, textX }: any) {
  return (
    <g>
      <rect x={x} y={y} width={sw} height={sh} fill={GREEN} />
      <rect x={x} y={y + sh + gap} width={sw} height={sh} fill={PURPLE} />
      <text x={textX} y={y + sh / 2 + 16} fontSize={54} fill="#1e9a49" fontFamily={FONT}>survival</text>
      <text x={textX} y={y + sh + gap + sh / 2 + 16} fontSize={54} fill="#4646ad" fontFamily={FONT}>non-survival</text>
    </g>
  );
}

export default function App() {
  return (
    <div style={{ position: "absolute", left: 0, top: 0, width: 3849, height: 3133, background: "#fff", overflow: "hidden" }}>
      {panels.map((p) => (
        <Panel key={p.id} p={p} />
      ))}
      <svg width={3849} height={3133} style={{ position: "absolute", left: 0, top: 0, pointerEvents: "none" }}>
        <text x={1850} y={128} fontSize={132} textAnchor="middle" fill="#111" fontFamily={FONT}>VV-ECMO litres per minute</text>
        <text x={1773} y={1733} fontSize={132} textAnchor="middle" fill="#111" fontFamily={FONT}>respiratory minute volume</text>
        {panelTitles.map((t, i) => (
          <text key={i} x={t.x} y={t.y} fontSize={47} fontWeight={700} textAnchor="middle" fill="#111" fontFamily={FONT}>
            {t.text}
          </text>
        ))}
        <LegendBlock x={1257} y={859} sw={85} sh={47} gap={10} textX={1348} />
        <LegendBlock x={1268} y={2487} sw={80} sh={50} gap={9} textX={1352} />
      </svg>
    </div>
  );
}
